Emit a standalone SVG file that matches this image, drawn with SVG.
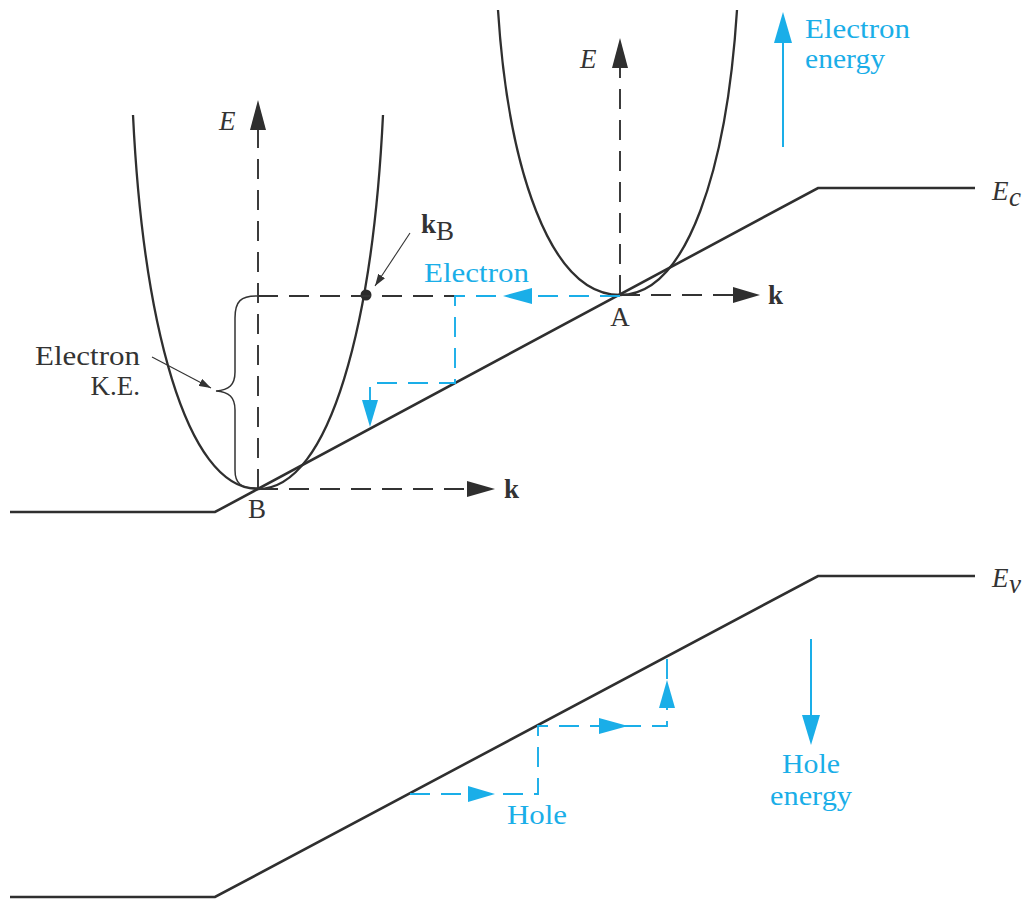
<svg xmlns="http://www.w3.org/2000/svg" width="1023" height="901" viewBox="0 0 1023 901">
<style>
.band{fill:none;stroke:#2f2f2f;stroke-width:2.6;stroke-linejoin:miter}
.curve{fill:none;stroke:#2f2f2f;stroke-width:2.3}
.dk{fill:none;stroke:#333;stroke-width:1.9;stroke-dasharray:20 11}
.bd{fill:none;stroke:#1aaee8;stroke-width:1.9;stroke-dasharray:20 11}
.bl{fill:none;stroke:#1aaee8;stroke-width:2}
.ptr{fill:none;stroke:#333;stroke-width:1.1;marker-end:url(#sm)}
.ah{fill:#2f2f2f}
.bh{fill:#1aaee8}
.t{font-family:"Liberation Serif","Times New Roman",serif;font-size:27px;fill:#333}
.ti{font-family:"Liberation Serif","Times New Roman",serif;font-size:27px;font-style:italic;fill:#333}
.tk{font-family:"Liberation Serif","Times New Roman",serif;font-size:27px;font-weight:bold;fill:#333}
.tb{font-family:"Liberation Serif","Times New Roman",serif;font-size:27px;fill:#1aaee8}
</style>
<defs>
<marker id="sm" viewBox="0 0 12 8" refX="12" refY="4" markerWidth="12" markerHeight="8" markerUnits="userSpaceOnUse" orient="auto">
<path d="M0,0 L12,4 L0,8 Z" fill="#333"/>
</marker>
</defs>

<g id="conduction-band">
<polyline class="band" points="10,512 215,512 818,188 975,188"/>
<text class="ti" x="992" y="200">E</text>
<text class="ti" x="1009" y="206" font-size="17">c</text>
</g>

<g id="valence-band">
<polyline class="band" points="10,897 215,897 818,576 975,576"/>
<text class="ti" x="992" y="587">E</text>
<text class="ti" x="1009" y="593" font-size="17">v</text>
</g>

<g id="parabola-B">
<path class="curve" d="M133,115 C143,320 185,489 258,489 C331,489 373,320 383,115"/>
<text class="ti" x="219" y="130">E</text>
<text class="t" x="257" y="518" text-anchor="middle" font-size="24">B</text>
<text class="tk" x="504" y="498">k</text>
</g>

<g id="parabola-A">
<path class="curve" d="M498,10 C508,166 549,295 620,295 C688,295 727,166 737,10"/>
<text class="ti" x="580" y="68">E</text>
<text class="t" x="620" y="326" text-anchor="middle" font-size="24">A</text>
<text class="tk" x="768" y="304">k</text>
</g>

<g id="kB">
<circle cx="366" cy="295" r="5.5" fill="#2a2a2a"/>
<text class="tk" x="421" y="233">k</text>
<text class="t" x="436" y="240" font-size="18">B</text>
</g>

<g id="electron-ke">
<path fill="none" stroke="#333" stroke-width="1.5" d="M257,296 C241,296 235,301 235,318 L235,372 C235,385 229,390 216,391 C229,392 235,397 235,410 L235,470 C235,484 241,488 257,488"/>
<text class="t" x="140" y="365" text-anchor="end" textLength="105" lengthAdjust="spacingAndGlyphs">Electron</text>
<text class="t" x="140" y="395" text-anchor="end">K.E.</text>
</g>

<g id="electron-energy">
<line class="bl" x1="783" y1="147" x2="783" y2="40"/>
<polygon class="bh" points="783,12 774,43 792,43"/>
<text class="tb" x="805" y="38" textLength="105" lengthAdjust="spacingAndGlyphs">Electron</text>
<text class="tb" x="805" y="68" textLength="80" lengthAdjust="spacingAndGlyphs">energy</text>
</g>

<g id="hole-energy">
<line class="bl" x1="811" y1="639" x2="811" y2="718"/>
<polygon class="bh" points="811,745 802,715 820,715"/>
<text class="tb" x="811" y="773" text-anchor="middle" textLength="58" lengthAdjust="spacingAndGlyphs">Hole</text>
<text class="tb" x="811" y="805" text-anchor="middle" textLength="82" lengthAdjust="spacingAndGlyphs">energy</text>
</g>

<g id="electron-label">
<text class="tb" x="424" y="282" textLength="105" lengthAdjust="spacingAndGlyphs">Electron</text>
</g>

<g id="hole-label">
<text class="tb" x="507" y="824" textLength="60" lengthAdjust="spacingAndGlyphs">Hole</text>
</g>

<g id="connectors">
<path class="dk" d="M258,489 V130"/>
<polygon class="ah" points="258,100 250,130 266,130"/>
<path class="dk" d="M620,295 V68"/>
<polygon class="ah" points="620,38 612,68 628,68"/>
<path class="dk" d="M258,489 H467"/>
<polygon class="ah" points="495,489 467,481 467,497"/>
<path class="dk" d="M620,295 H733"/>
<polygon class="ah" points="760,295 733,287 733,303"/>
<path class="dk" d="M258,296 H455"/>
<path class="bd" d="M620,296 H455 V383 H370 V402"/>
<polygon class="bh" points="503,296 532,288 532,304"/>
<polygon class="bh" points="370,427 362,400 378,400"/>
<path class="bd" d="M410,794 H538 V726 H667 V656"/>
<polygon class="bh" points="495,794 468,786 468,802"/>
<polygon class="bh" points="628,726 599,718 599,734"/>
<polygon class="bh" points="667,680 659,708 675,708"/>
<line class="ptr" x1="410" y1="233" x2="375" y2="286"/>
<line class="ptr" x1="152" y1="357" x2="211" y2="388"/>
</g>
</svg>
